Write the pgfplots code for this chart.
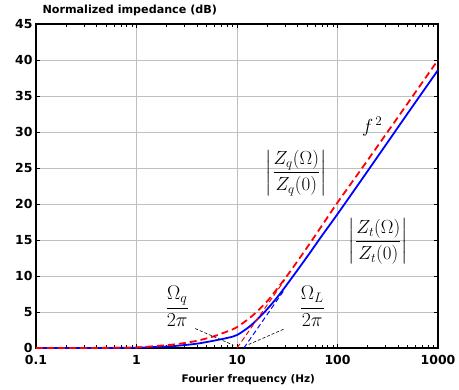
\documentclass[border=0pt]{standalone}
\usepackage{amsmath}
\usepackage{pgfplots}
\pgfplotsset{compat=1.18}
\usepackage{fontspec}
\setmainfont{DejaVu Sans}

\begin{document}
\begin{tikzpicture}
\begin{axis}[
  at={(0,0)}, anchor=south west,
  scale only axis, width=402bp, height=324bp,
  xmode=log, xmin=0.1, xmax=1000, ymin=0, ymax=45,
  xtick={0.1,1,10,100,1000}, xticklabels={0.1,1,10,100,1000},
  ytick={0,5,...,45},
  grid=major, major grid style={draw=black!25, line width=0.8pt},
  axis line style={line width=1.2pt},
  tick style={black, line width=0.8pt},
  /pgf/number format/assume math mode=true,
  ticklabel style={font=\bfseries\fontsize{12.5}{13}\selectfont},
  xticklabel style={yshift=-4bp},
  xlabel={Fourier frequency (Hz)},
  xlabel style={font=\bfseries\fontsize{10.5}{12}\selectfont,
    at={(axis description cs:0.528,0)}, anchor=center, yshift=-32bp},
  clip=false,
]
% |Z_t(Omega)/Z_t(0)|
\addplot[blue, line width=1.8pt, smooth] coordinates {
  (0.1,0) (0.5,0.01) (1,0.05) (2,0.2) (2.71,0.35) (4,0.6) (5.8,1.0)
  (8,1.4) (10,1.8) (13.4,3.0) (16,4.0) (19.7,5.3) (25,7.0) (33.7,9.4)
  (50,12.7) (70,15.6) (100,18.6) (200,24.6) (500,32.6) (1000,38.6)};
% |Z_q(Omega)/Z_q(0)|
\addplot[red, line width=1.8pt, dash pattern=on 7bp off 4bp, smooth] coordinates {
  (0.1,0) (0.5,0.02) (1,0.08) (2,0.4) (2.71,0.6) (4,1.0) (5.8,1.6)
  (8,2.3) (10,2.9) (14,4.4) (19.7,6.4) (25,8.2) (33.7,10.6)
  (50,14.0) (70,17.0) (100,20.2) (200,26.1) (500,34.0) (1000,40.0)};
% f^2 asymptotes
\addplot[red, line width=1pt, dash pattern=on 5bp off 3bp] coordinates {(10,0) (30,9.5)};
\addplot[blue, line width=1pt, dash pattern=on 5bp off 3bp] coordinates {(11.7,0) (30,8.2)};
% pointers to the corner frequencies
\draw[black, line width=0.6pt, dash pattern=on 3bp off 2bp] (axis cs:3.84,2.7) -- (axis cs:9.2,0.4);
\draw[black, line width=0.6pt, dash pattern=on 3bp off 2bp] (axis cs:29,2.6) -- (axis cs:12.6,0.4);
% annotations
\node[font=\fontsize{17.28}{20}\selectfont, scale=1.15] at (axis cs:2.54,5.8) {$\dfrac{\Omega_q}{2\pi}$};
\node[font=\fontsize{17.28}{20}\selectfont, scale=1.15] at (axis cs:56.1,5.8) {$\dfrac{\Omega_L}{2\pi}$};
\node[font=\fontsize{17.28}{20}\selectfont, scale=1.1] at (axis cs:38.9,24.3) {$\left|\dfrac{Z_q(\Omega)}{Z_q(0)}\right|$};
\node[font=\fontsize{17.28}{20}\selectfont, scale=1.1] at (axis cs:254.7,14.8) {$\left|\dfrac{Z_t(\Omega)}{Z_t(0)}\right|$};
\node[font=\fontsize{17.28}{20}\selectfont, scale=1.1] at (axis cs:222,30.7) {$f^{\,2}$};
\end{axis}
\node[anchor=west, font=\bfseries\fontsize{11.2}{12}\selectfont] at (3bp,338bp) {Normalized impedance (dB)};
\pgfresetboundingbox
\path[use as bounding box] (-36bp,-42bp) rectangle (423bp,348bp);
\end{tikzpicture}
\end{document}
